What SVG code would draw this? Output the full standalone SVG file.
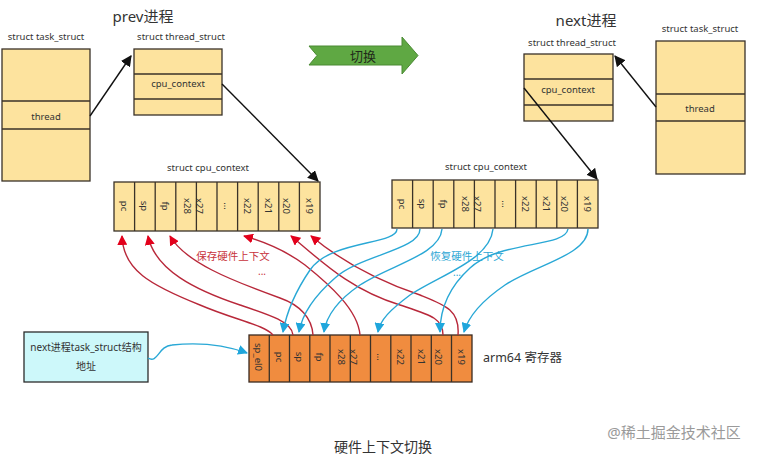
<svg xmlns="http://www.w3.org/2000/svg" width="760" height="455" viewBox="0 0 760 455">
<style>
text{font-family:"Noto Sans","Noto Sans CJK SC",sans-serif;fill:#333}
.lbl{font-size:9.5px;text-anchor:middle}
.cell{font-size:9.5px;text-anchor:middle;dominant-baseline:central}
.yb{fill:#fde39e;stroke:#3a3228;stroke-width:1.3}
.ob{fill:#f08c3f;stroke:#3a2a20;stroke-width:1.3}
.sep{stroke:#3a3228;stroke-width:1.3}
.blk{fill:none;stroke:#111;stroke-width:1.4}
.red{fill:none;stroke:#b8283a;stroke-width:1.4}
.blu{fill:none;stroke:#29a8d6;stroke-width:1.4}
.title{font-size:15px}
</style>
<defs>
<marker id="mb" viewBox="0 0 10 10" refX="9" refY="5" markerWidth="11" markerHeight="11" orient="auto" markerUnits="userSpaceOnUse"><path d="M0,0 L10,5 L0,10 z" fill="#111"/></marker>
<marker id="mr" viewBox="0 0 10 10" refX="9" refY="5" markerWidth="10" markerHeight="10" orient="auto" markerUnits="userSpaceOnUse"><path d="M0,0 L10,5 L0,10 z" fill="#e3001b"/></marker>
<marker id="mc" viewBox="0 0 10 10" refX="9" refY="5" markerWidth="10" markerHeight="10" orient="auto" markerUnits="userSpaceOnUse"><path d="M0,0 L10,5 L0,10 z" fill="#1fa6dc"/></marker>
</defs>
<rect width="760" height="455" fill="#fff"/>

<text x="143" y="22" class="title" text-anchor="middle">prev进程</text>
<text x="586" y="26" class="title" text-anchor="middle">next进程</text>

<g id="prev-task-struct">
<text x="46" y="40" class="lbl">struct task_struct</text>
<rect x="2" y="49" width="88" height="132" class="yb"/>
<line x1="2" y1="101" x2="90" y2="101" class="sep"/>
<line x1="2" y1="129" x2="90" y2="129" class="sep"/>
<text x="46" y="120" class="lbl">thread</text>
</g>

<g id="prev-thread-struct">
<text x="181" y="40" class="lbl">struct thread_struct</text>
<rect x="134" y="49" width="88" height="66" class="yb"/>
<line x1="134" y1="74" x2="222" y2="74" class="sep"/>
<line x1="134" y1="99" x2="222" y2="99" class="sep"/>
<text x="178" y="87" class="lbl">cpu_context</text>
</g>

<g id="next-thread-struct">
<text x="572" y="46" class="lbl">struct thread_struct</text>
<rect x="524" y="54" width="89" height="67" class="yb"/>
<line x1="524" y1="79" x2="613" y2="79" class="sep"/>
<line x1="524" y1="105" x2="613" y2="105" class="sep"/>
<text x="568" y="93" class="lbl">cpu_context</text>
</g>

<g id="next-task-struct">
<text x="700" y="32" class="lbl">struct task_struct</text>
<rect x="656" y="41" width="89" height="133" class="yb"/>
<line x1="656" y1="94" x2="745" y2="94" class="sep"/>
<line x1="656" y1="121" x2="745" y2="121" class="sep"/>
<text x="700" y="112" class="lbl">thread</text>
</g>

<g id="switch-arrow">
<polygon points="309,46 402,46 402,37 418,55.5 402,74 402,65 309,65 317,55.5" fill="#5fa843" stroke="#4a8a33" stroke-width="1"/>
<text x="363" y="60.5" font-size="13" text-anchor="middle" style="fill:#1f2a1a">切换</text>
</g>

<g id="prev-cpu-context">
<text x="208" y="171" class="lbl">struct cpu_context</text>
<rect x="114" y="182" width="206" height="49" class="yb"/>
<g class="sep">
<line x1="134.6" y1="182" x2="134.6" y2="231"/><line x1="155.2" y1="182" x2="155.2" y2="231"/>
<line x1="175.8" y1="182" x2="175.8" y2="231"/><line x1="196.4" y1="182" x2="196.4" y2="231"/>
<line x1="217" y1="182" x2="217" y2="231"/><line x1="237.6" y1="182" x2="237.6" y2="231"/>
<line x1="258.2" y1="182" x2="258.2" y2="231"/><line x1="278.8" y1="182" x2="278.8" y2="231"/>
<line x1="299.4" y1="182" x2="299.4" y2="231"/>
</g>
<text class="cell" x="124.3" y="206" transform="rotate(90 124.3 206)">pc</text>
<text class="cell" x="144.9" y="206" transform="rotate(90 144.9 206)">sp</text>
<text class="cell" x="165.5" y="206" transform="rotate(90 165.5 206)">fp</text>
<text class="cell" x="187" y="206" transform="rotate(90 187 206)">x28</text>
<text class="cell" x="199" y="206" transform="rotate(90 199 206)">x27</text>
<text class="cell" x="227.3" y="206" transform="rotate(90 227.3 206)">...</text>
<text class="cell" x="247.9" y="206" transform="rotate(90 247.9 206)">x22</text>
<text class="cell" x="268.5" y="206" transform="rotate(90 268.5 206)">x21</text>
<text class="cell" x="286" y="206" transform="rotate(90 286 206)">x20</text>
<text class="cell" x="309.7" y="206" transform="rotate(90 309.7 206)">x19</text>
</g>

<g id="next-cpu-context">
<text x="486" y="170" class="lbl">struct cpu_context</text>
<rect x="392" y="180" width="206" height="48" class="yb"/>
<g class="sep">
<line x1="412.6" y1="180" x2="412.6" y2="228"/><line x1="433.2" y1="180" x2="433.2" y2="228"/>
<line x1="453.8" y1="180" x2="453.8" y2="228"/><line x1="474.4" y1="180" x2="474.4" y2="228"/>
<line x1="495" y1="180" x2="495" y2="228"/><line x1="515.6" y1="180" x2="515.6" y2="228"/>
<line x1="536.2" y1="180" x2="536.2" y2="228"/><line x1="556.8" y1="180" x2="556.8" y2="228"/>
<line x1="577.4" y1="180" x2="577.4" y2="228"/>
</g>
<text class="cell" x="402.3" y="204" transform="rotate(90 402.3 204)">pc</text>
<text class="cell" x="422.9" y="204" transform="rotate(90 422.9 204)">sp</text>
<text class="cell" x="443.5" y="204" transform="rotate(90 443.5 204)">fp</text>
<text class="cell" x="465" y="204" transform="rotate(90 465 204)">x28</text>
<text class="cell" x="477" y="204" transform="rotate(90 477 204)">x27</text>
<text class="cell" x="505.3" y="204" transform="rotate(90 505.3 204)">...</text>
<text class="cell" x="525.9" y="204" transform="rotate(90 525.9 204)">x22</text>
<text class="cell" x="546.5" y="204" transform="rotate(90 546.5 204)">x21</text>
<text class="cell" x="564" y="204" transform="rotate(90 564 204)">x20</text>
<text class="cell" x="587.7" y="204" transform="rotate(90 587.7 204)">x19</text>
</g>

<g id="arm64-registers">
<rect x="249" y="335" width="223" height="47" class="ob"/>
<g class="sep">
<line x1="269.3" y1="335" x2="269.3" y2="382"/><line x1="289.5" y1="335" x2="289.5" y2="382"/>
<line x1="309.8" y1="335" x2="309.8" y2="382"/><line x1="330" y1="335" x2="330" y2="382"/>
<line x1="350.3" y1="335" x2="350.3" y2="382"/><line x1="370.5" y1="335" x2="370.5" y2="382"/>
<line x1="390.8" y1="335" x2="390.8" y2="382"/><line x1="411" y1="335" x2="411" y2="382"/>
<line x1="431.3" y1="335" x2="431.3" y2="382"/><line x1="451.5" y1="335" x2="451.5" y2="382"/>
</g>
<text class="cell" x="258.5" y="357" transform="rotate(90 258.5 357)">sp_el0</text>
<text class="cell" x="279.4" y="357" transform="rotate(90 279.4 357)">pc</text>
<text class="cell" x="299.6" y="357" transform="rotate(90 299.6 357)">sp</text>
<text class="cell" x="319.9" y="357" transform="rotate(90 319.9 357)">fp</text>
<text class="cell" x="341.5" y="357" transform="rotate(90 341.5 357)">x28</text>
<text class="cell" x="353" y="357" transform="rotate(90 353 357)">x27</text>
<text class="cell" x="380.6" y="357" transform="rotate(90 380.6 357)">...</text>
<text class="cell" x="400.9" y="357" transform="rotate(90 400.9 357)">x22</text>
<text class="cell" x="421.1" y="357" transform="rotate(90 421.1 357)">x21</text>
<text class="cell" x="438" y="357" transform="rotate(90 438 357)">x20</text>
<text class="cell" x="461.7" y="357" transform="rotate(90 461.7 357)">x19</text>
<text x="483" y="362" font-size="12.5">arm64 寄存器</text>
</g>

<g id="next-task-addr">
<rect x="24" y="332" width="124" height="50" fill="#cdf8fa" stroke="#2b2b2b" stroke-width="1.3"/>
<text x="86" y="351" font-size="10" text-anchor="middle">next进程task_struct结构</text>
<text x="86" y="370" font-size="10" text-anchor="middle">地址</text>
</g>

<g id="connectors">
<line x1="90" y1="116" x2="131" y2="56" class="blk" marker-end="url(#mb)"/>
<line x1="222" y1="84" x2="318" y2="181" class="blk" marker-end="url(#mb)"/>
<line x1="656" y1="107" x2="615" y2="56" class="blk" marker-end="url(#mb)"/>
<line x1="524" y1="88" x2="597" y2="179" class="blk" marker-end="url(#mb)"/>

<path d="M273,335 C265,325 235,320 200,305 C150,285 123,270 122,236" class="red" marker-end="url(#mr)"/>
<path d="M293,335 C292,322 270,315 240,305 C195,290 155,270 148,236" class="red" marker-end="url(#mr)"/>
<path d="M313,335 C312,318 300,305 280,298 C230,280 185,262 170,236" class="red" marker-end="url(#mr)"/>
<path d="M360,335 C358,310 330,285 305,265 C285,250 265,242 244,236" class="red" marker-end="url(#mr)"/>
<path d="M443,335 C443,318 430,315 400,305 C350,290 320,260 291,236" class="red" marker-end="url(#mr)"/>
<path d="M458,335 C460,310 445,305 420,295 C375,280 340,260 311,236" class="red" marker-end="url(#mr)"/>

<path d="M397,229 C397,245 330,240 310,270 C295,292 287,310 283,332" class="blu" marker-end="url(#mc)"/>
<path d="M420,229 C420,250 360,255 335,278 C312,298 302,315 299,332" class="blu" marker-end="url(#mc)"/>
<path d="M442,229 C440,255 390,265 360,285 C335,302 326,318 324,332" class="blu" marker-end="url(#mc)"/>
<path d="M493,229 C490,260 440,275 410,295 C390,310 380,320 378,332" class="blu" marker-end="url(#mc)"/>
<path d="M568,229 C565,248 500,240 470,268 C448,288 440,310 440,332" class="blu" marker-end="url(#mc)"/>
<path d="M588,229 C588,255 535,265 505,285 C480,302 468,318 464,332" class="blu" marker-end="url(#mc)"/>

<path d="M148,358 C158,364 158,346 172,345 C200,342 225,345 247,353" class="blu" marker-end="url(#mc)"/>
</g>

<text x="233" y="260" font-size="10.5" text-anchor="middle" style="fill:#c8323c">保存硬件上下文</text>
<text x="262" y="275" font-size="10" text-anchor="middle" style="fill:#c8323c">...</text>
<text x="467" y="260" font-size="10.5" text-anchor="middle" style="fill:#2aa6d4">恢复硬件上下文</text>
<text x="457" y="276" font-size="10" text-anchor="middle" style="fill:#2aa6d4">...</text>

<text x="383" y="452" font-size="14" text-anchor="middle">硬件上下文切换</text>
<text x="674" y="438" font-size="15" text-anchor="middle" style="fill:#9a9a9a">@稀土掘金技术社区</text>
</svg>
